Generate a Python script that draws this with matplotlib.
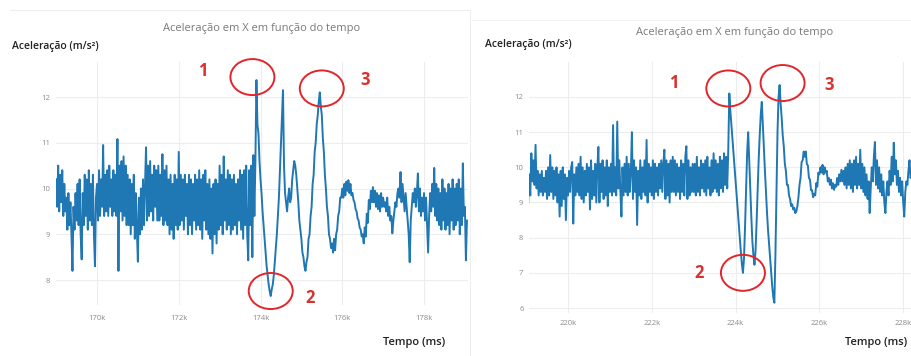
import matplotlib
matplotlib.use("Agg")
import matplotlib.pyplot as plt
from matplotlib.patches import Ellipse
from matplotlib.transforms import ScaledTranslation
import numpy as np

plt.rcParams['font.family'] = ['Open Sans', 'DejaVu Sans']

# ---- data, time in thousands of ms ----
STEP = 0.025

left_t0 = 169.00
left_acc = [
    # 169.0
    10.2, 9.6, 10.5, 9.5, 10.3, 9.7, 10.4, 9.4, 10.1, 9.5,
    9.8, 9.1, 9.9, 9.2, 9.7, 9.0, 8.2, 9.6, 9.1, 9.9,
    9.3, 10.1, 9.2, 10.2, 9.0, 8.45, 9.9, 9.2, 10.3, 9.4,
    10.2, 9.1, 10.4, 9.3, 10.1, 9.2, 10.3, 9.0, 8.3, 9.8,
    # 170.0
    10.1, 9.3, 10.4, 9.4, 10.2, 9.6, 10.95, 9.4, 10.3, 9.5,
    10.4, 9.4, 10.5, 9.6, 10.2, 9.4, 10.4, 9.5, 10.3, 9.4,
    11.08, 8.2, 10.5, 9.5, 10.6, 9.3, 10.7, 9.4, 10.5, 9.2,
    10.3, 9.2, 10.2, 9.0, 10.1, 9.2, 10.3, 8.9, 9.9, 9.1,
    # 171.0
    8.4, 9.8, 9.0, 10.0, 9.1, 10.2, 9.2, 10.1, 10.9, 9.3,
    10.5, 9.4, 10.6, 9.5, 10.3, 9.3, 10.5, 9.6, 10.4, 9.3,
    10.5, 9.3, 10.3, 9.4, 10.75, 9.2, 10.4, 9.3, 10.5, 9.2,
    10.2, 9.0, 10.3, 9.1, 10.1, 8.9, 10.3, 9.2, 10.2, 9.1,
    # 172.0
    10.8, 9.2, 10.3, 9.3, 10.2, 9.1, 10.3, 9.4, 10.1, 9.0,
    10.3, 9.2, 10.2, 9.0, 10.1, 9.3, 10.3, 9.1, 10.2, 9.2,
    10.4, 9.1, 10.2, 8.9, 10.3, 9.3, 10.4, 9.1, 10.1, 9.0,
    10.2, 8.9, 10.0, 8.58, 10.1, 9.0, 10.2, 8.8, 10.1, 9.1,
    # 173.0
    10.5, 9.2, 10.3, 9.0, 10.7, 9.3, 10.2, 9.1, 10.4, 9.2,
    10.3, 9.0, 10.2, 9.1, 10.3, 9.2, 10.1, 9.0, 10.2, 9.3,
    10.4, 9.1, 10.3, 8.9, 10.4, 9.2, 10.5, 9.0, 8.43, 10.4,
    9.2, 10.5, 8.5, 10.73, 9.4, 10.6, 12.37, 11.4, 11.2, 10.6,
    # 174.0
    10.2, 9.9, 9.5, 9.2, 8.9, 8.6, 8.3, 8.1, 7.9, 7.75,
    7.65, 7.8, 7.9, 8.1, 8.4, 8.7, 9.0, 9.4, 9.8, 10.4,
    11.0, 11.6, 12.15, 10.5, 9.9, 9.7, 9.5, 9.8, 10.0, 9.7,
    9.8, 10.2, 10.4, 10.6, 10.5, 10.3, 10.0, 9.7, 9.3, 9.1,
    # 175.0
    8.9, 8.6, 8.5, 8.3, 8.2, 8.4, 8.5, 8.9, 9.0, 9.4,
    9.6, 10.1, 10.3, 10.8, 11.0, 11.4, 11.6, 11.9, 12.1, 11.8,
    11.6, 11.1, 10.8, 10.3, 10.0, 9.6, 9.4, 9.0, 8.9, 8.7,
    8.8, 8.6, 8.9, 8.65, 9.0, 9.1, 9.4, 9.5, 9.8, 9.8,
    # 176.0
    10.0, 9.8, 10.1, 9.85, 10.15, 9.95, 10.18, 9.9, 10.1, 9.85,
    9.9, 9.75, 9.7, 9.55, 9.5, 9.35, 9.3, 9.15, 9.1, 8.95,
    9.0, 8.8, 9.15, 8.95, 9.45, 9.25, 9.75, 9.55, 9.95, 9.7,
    10.03, 9.7, 9.95, 9.6, 9.9, 9.55, 9.85, 9.5, 9.9, 9.6,
    # 177.0
    9.8, 9.6, 9.7, 9.5, 9.8, 9.4, 9.6, 9.3, 9.4, 9.02,
    9.3, 9.5, 9.7, 9.6, 9.9, 10.0, 9.8, 10.36, 9.7, 10.1,
    9.8, 9.5, 9.9, 9.6, 9.3, 9.0, 8.39, 9.3, 9.6, 9.9,
    9.7, 10.0, 9.6, 9.9, 10.33, 9.5, 10.0, 9.4, 9.8, 9.5,
    # 178.0
    9.9, 9.3, 9.8, 9.2, 8.6, 9.4, 9.9, 9.5, 10.1, 9.6,
    10.45, 9.4, 10.1, 9.3, 10.0, 9.2, 9.9, 9.1, 10.2, 9.3,
    10.0, 9.1, 9.9, 9.2, 10.1, 9.0, 10.0, 9.3, 10.2, 9.1,
    10.0, 9.2, 10.1, 9.3, 10.2, 9.0, 10.0, 9.2, 10.55, 9.4,
    # 179.0
    9.6, 8.43, 9.3,
]

right_t0 = 219.05
right_acc = [
    # 219.05
    9.0, 9.8, 9.2, 10.4, 9.6, 10.2, 9.5, 10.64, 9.4, 9.9,
    9.2, 9.8, 9.3, 9.9, 9.2, 9.7, 9.3, 9.9, 9.1, 10.0,
    9.2, 10.35, 9.3, 10.0, 9.1, 9.9, 9.2, 10.0, 9.0, 9.8,
    8.6, 9.9, 8.9, 10.0, 9.1, 9.8, 8.5, 9.7,
    # 220.0
    9.2, 9.9, 9.3, 10.0, 10.15, 8.4, 9.8, 9.2, 10.0, 9.3,
    10.1, 9.2, 10.3, 9.1, 10.0, 9.0, 9.9, 9.2, 10.1, 9.3,
    10.0, 8.8, 10.2, 9.1, 9.9, 9.2, 10.1, 9.0, 10.0, 10.58,
    9.0, 10.1, 9.3, 10.2, 9.1, 10.0, 9.2, 10.2, 8.9, 10.0,
    # 221.0
    9.3, 10.1, 9.2, 11.2, 9.3, 10.0, 9.2, 11.3, 9.4, 10.2,
    9.3, 8.6, 10.0, 9.2, 10.1, 9.3, 10.3, 9.2, 10.1, 9.3,
    9.9, 11.0, 9.1, 10.2, 9.3, 10.0, 8.36, 9.9, 9.2, 10.2,
    9.1, 10.0, 9.3, 10.2, 9.2, 10.78, 9.0, 10.1, 9.3, 10.0,
    # 222.0
    9.2, 10.2, 9.1, 10.1, 9.3, 10.0, 9.2, 10.1, 9.4, 10.2,
    9.3, 10.1, 10.5, 9.1, 10.2, 9.2, 10.1, 9.0, 10.2, 9.3,
    10.3, 9.3, 10.2, 9.2, 10.1, 9.3, 10.0, 9.1, 10.2, 9.3,
    10.1, 9.2, 10.3, 10.6, 9.1, 10.2, 9.2, 10.0, 9.3, 10.1,
    # 223.0
    9.3, 10.1, 9.2, 10.3, 9.3, 10.0, 9.2, 10.2, 9.4, 10.1,
    9.3, 10.2, 9.2, 10.3, 9.4, 10.0, 9.2, 10.2, 9.3, 10.4,
    9.4, 10.2, 9.3, 10.1, 9.2, 10.3, 9.4, 10.2, 9.3, 10.4,
    9.5, 10.3, 9.4, 10.5, 12.1, 11.6, 11.2, 10.8, 10.4, 10.0,
    # 224.0
    9.6, 9.2, 8.8, 8.4, 8.0, 7.6, 7.25, 7.0, 7.4, 8.3,
    9.4, 10.4, 11.0, 10.2, 9.4, 8.6, 7.9, 7.5, 7.23, 7.6,
    8.4, 9.3, 10.2, 10.9, 11.5, 11.86, 11.2, 10.5, 9.9, 9.3,
    8.7, 8.2, 7.8, 7.4, 7.0, 6.6, 6.3, 6.15, 7.5, 9.3,
    # 225.0
    11.0, 12.0, 12.34, 11.8, 11.4, 10.9, 10.6, 10.1, 9.9, 9.5,
    9.5, 9.2, 9.1, 8.9, 8.95, 8.8, 8.85, 8.7, 8.75, 8.9,
    9.15, 9.5, 9.7, 10.15, 10.2, 10.45, 10.3, 10.45, 10.1, 10.05,
    9.7, 9.65, 9.35, 9.35, 9.15, 9.25, 9.2, 9.55, 9.45, 9.85,
    # 226.0
    9.8, 10.0, 9.85, 10.07, 9.8, 10.0, 9.85, 9.9, 9.6, 9.7,
    9.5, 9.65, 9.4, 9.55, 9.36, 9.5, 9.45, 9.7, 9.5, 9.8,
    9.6, 9.93, 9.6, 9.9, 9.5, 10.0, 9.4, 10.1, 9.5, 10.2,
    9.4, 10.1, 9.3, 10.2, 9.5, 10.3, 9.4, 10.1, 9.5, 10.5,
    # 227.0
    9.4, 10.1, 9.3, 10.0, 9.2, 9.8, 9.1, 9.6, 8.7, 9.4,
    10.0, 9.6, 10.3, 10.72, 9.5, 10.2, 9.4, 10.0, 9.3, 9.8,
    9.2, 9.6, 9.0, 8.7, 9.3, 9.6, 9.2, 9.9, 9.5, 10.3,
    9.6, 10.7, 9.8, 10.2, 9.5, 9.9, 9.3, 9.7, 9.2, 9.6,
    # 228.0
    9.0, 8.6, 9.3, 9.6, 9.5, 9.9, 10.2, 9.7, 9.8, 9.6,
]

left_xticks = [170, 172, 174, 176, 178]
right_xticks = [220, 222, 224, 226, 228]
left_yticks = [8, 9, 10, 11, 12]
right_yticks = [6, 7, 8, 9, 10, 11, 12]

# marked points: (time window start, end, 'max'/'min', label)
left_marks = [(173.6, 174.1, 'max', '1'), (174.0, 174.5, 'min', '2'), (175.2, 175.7, 'max', '3')]
right_marks = [(223.6, 224.0, 'max', '1'), (224.0, 224.3, 'min', '2'), (224.98, 225.2, 'max', '3')]

TITLE = 'Aceleração em X em função do tempo'
YLAB = 'Aceleração (m/s²)'
XLAB = 'Tempo (ms)'

W, H = 912, 356
fig = plt.figure(figsize=(W / 100, H / 100), dpi=100)
fig.patch.set_facecolor('white')


def px_axes(l, r, t, b):
    return fig.add_axes([l / W, (H - b) / H, (r - l) / W, (b - t) / H])


def style(ax, xt, yt, pad_x):
    for s in ax.spines.values():
        s.set_visible(False)
    ax.set_xticks(xt)
    ax.set_xticklabels([f'{v}k' for v in xt])
    ax.set_yticks(yt)
    ax.tick_params(length=0, labelsize=5.5, labelcolor='#8a8a8a', pad=4)
    ax.tick_params(axis='x', pad=pad_x)
    ax.grid(True, color='#ededed', lw=0.8)
    ax.set_axisbelow(True)


def mark(ax, t, y, marks, circle_off, label_off):
    for (a, b, kind, lab), co, lo in zip(marks, circle_off, label_off):
        sel = (t >= a) & (t <= b)
        idx = np.argmax(y[sel]) if kind == 'max' else np.argmin(y[sel])
        px, py = t[sel][idx], y[sel][idx]
        tr = fig.dpi_scale_trans + ScaledTranslation(px, py, ax.transData)
        ax.add_patch(Ellipse((co[0] / 100, co[1] / 100), 0.44, 0.36, transform=tr,
                             fill=False, ec='#e0262b', lw=1.4, clip_on=False, zorder=5))
        ax.annotate(lab, (px, py), xytext=(lo[0] * 0.72, lo[1] * 0.72), textcoords='offset points',
                    color='#d93030', fontsize=12, fontweight='bold', ha='center', va='center',
                    annotation_clip=False)


# left panel
axL = px_axes(56, 468, 62, 305)
tL = left_t0 + STEP * np.arange(len(left_acc))
yL = np.array(left_acc)
axL.plot(tL, yL, color='#1f77b4', lw=1.4)
axL.set_xlim(168.997, 179.076)
axL.set_ylim(7.454, 12.765)
style(axL, left_xticks, left_yticks, 7)
mark(axL, tL, yL, left_marks, [(-4, 3), (0, 5), (2, 4)], [(-54, 9), (39, -2), (45, 12)])

# right panel
axR = px_axes(529, 912, 62, 313)
tR = right_t0 + STEP * np.arange(len(right_acc))
yR = np.array(right_acc)
axR.plot(tR, yR, color='#1f77b4', lw=1.4)
axR.set_xlim(219.069, 228.21)
axR.set_ylim(5.858, 12.995)
style(axR, right_xticks, right_yticks, 5)
mark(axR, tR, yR, right_marks, [(-1, 5), (0, 0), (3, 2)], [(-56, 10), (-44, 0), (50, 0)])

# texts
for cx, ty, lx, ly, rx, ry in [(262, 28, 12, 47, 445, 342), (735, 32, 485, 45, 907, 343)]:
    fig.text(cx / W, 1 - ty / H, TITLE, ha='center', va='center', fontsize=8, color='#7a7a7a')
    fig.text(lx / W, 1 - ly / H, YLAB, ha='left', va='center', fontsize=7.5, color='#222222',
             fontweight='semibold')
    fig.text(rx / W, 1 - ry / H, XLAB, ha='right', va='center', fontsize=8, color='#222222',
             fontweight='semibold')

# faint card borders from the screenshot
fig.add_artist(plt.Line2D([10 / W, 470 / W], [1 - 10 / H, 1 - 10 / H], color='#eeeeee', lw=0.8))
fig.add_artist(plt.Line2D([472 / W, 1], [1 - 20 / H, 1 - 20 / H], color='#f0f0f0', lw=0.8))
fig.add_artist(plt.Line2D([470 / W, 470 / W], [0, 1 - 10 / H], color='#eeeeee', lw=0.8))

fig.savefig('out.png', dpi=100)
